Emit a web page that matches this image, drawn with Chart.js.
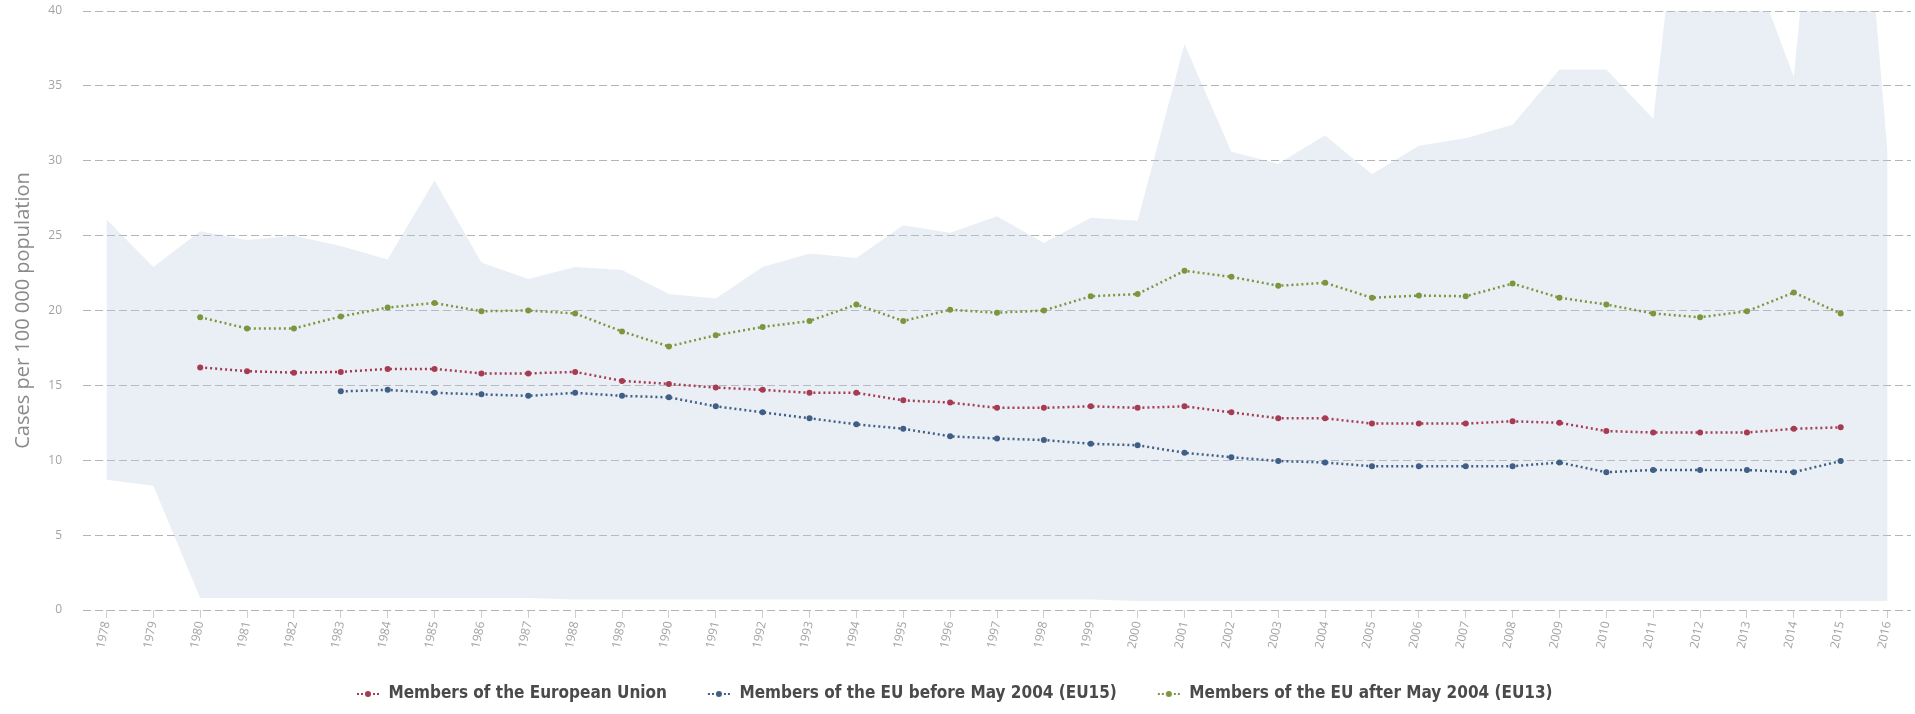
<!DOCTYPE html>
<html>
<head>
<meta charset="utf-8">
<script src="https://cdn.jsdelivr.net/npm/chart.js@4.4.1/dist/chart.umd.min.js"></script>
<style>
  html, body { margin: 0; padding: 0; background: #fff; }
  #wrap { width: 1915px; height: 714px; }
</style>
</head>
<body>
<div id="wrap"><canvas id="chart"></canvas></div>
<script>
const years = ["1978", "1979", "1980", "1981", "1982", "1983", "1984", "1985", "1986", "1987",
  "1988", "1989", "1990", "1991", "1992", "1993", "1994", "1995", "1996", "1997",
  "1998", "1999", "2000", "2001", "2002", "2003", "2004", "2005", "2006", "2007",
  "2008", "2009", "2010", "2011", "2012", "2013", "2014", "2015", "2016"];

const euAll = [null, null, 16.2, 15.95, 15.85, 15.9, 16.1, 16.1, 15.8, 15.8,
  15.9, 15.3, 15.1, 14.85, 14.7, 14.5, 14.5, 14.0, 13.85, 13.5,
  13.5, 13.6, 13.5, 13.6, 13.2, 12.8, 12.8, 12.45, 12.45, 12.45,
  12.6, 12.5, 11.95, 11.85, 11.85, 11.85, 12.1, 12.2, null];

const eu15 = [null, null, null, null, null, 14.6, 14.7, 14.5, 14.4, 14.3,
  14.5, 14.3, 14.2, 13.6, 13.2, 12.8, 12.4, 12.1, 11.6, 11.45,
  11.35, 11.1, 11.0, 10.5, 10.2, 9.95, 9.85, 9.6, 9.6, 9.6,
  9.6, 9.85, 9.2, 9.35, 9.35, 9.35, 9.2, 9.95, null];

const eu13 = [null, null, 19.55, 18.8, 18.8, 19.6, 20.2, 20.5, 19.95, 20.0,
  19.8, 18.6, 17.6, 18.35, 18.9, 19.3, 20.4, 19.3, 20.05, 19.85,
  20.0, 20.95, 21.1, 22.65, 22.25, 21.65, 21.85, 20.85, 21.0, 20.95,
  21.8, 20.85, 20.4, 19.8, 19.55, 19.95, 21.2, 19.8, null];

// highest and lowest country value per year (shaded band)
const rangeMax = [26.1, 22.9, 25.3, 24.7, 25.0, 24.3, 23.4, 28.7, 23.2, 22.1,
  22.9, 22.7, 21.1, 20.8, 22.9, 23.8, 23.5, 25.7, 25.2, 26.3,
  24.5, 26.2, 26.0, 37.8, 30.6, 29.8, 31.7, 29.1, 31.0, 31.5,
  32.4, 36.1, 36.1, 32.8, 60, 44, 35.6, 68, 30.5];

const rangeMin = [8.7, 8.3, 0.8, 0.8, 0.8, 0.8, 0.8, 0.8, 0.8, 0.8,
  0.7, 0.7, 0.7, 0.7, 0.7, 0.7, 0.7, 0.7, 0.7, 0.7,
  0.7, 0.7, 0.6, 0.6, 0.6, 0.6, 0.6, 0.6, 0.6, 0.6,
  0.6, 0.6, 0.6, 0.6, 0.6, 0.6, 0.6, 0.6, 0.6];

const seriesNames = [
  "Members of the European Union",
  "Members of the EU before May 2004 (EU15)",
  "Members of the EU after May 2004 (EU13)"
];
const seriesColors = ["#a73b52", "#3f5f86", "#7b973d"];

Chart.defaults.font.family = "'Open Sans', sans-serif";

function makeMarker(color) {
  const c = document.createElement("canvas");
  c.width = 24;
  c.height = 8;
  const g = c.getContext("2d");
  g.fillStyle = color;
  [1, 5, 17, 21].forEach(x => g.fillRect(x, 3, 2, 2));
  g.beginPath();
  g.arc(12, 4, 3, 0, Math.PI * 2);
  g.fill();
  return c;
}
const markers = seriesColors.map(makeMarker);

function lineSet(label, data, color) {
  return {
    label: label,
    data: data,
    borderColor: color,
    backgroundColor: color,
    borderWidth: 2.5,
    borderDash: [2, 3],
    pointRadius: 3,
    pointBorderWidth: 0,
    pointBackgroundColor: color,
    tension: 0,
    fill: false
  };
}

// put the legend where the original has it
const legendPlace = {
  id: "legendPlace",
  afterLayout(chart) {
    chart.legend.left = 316;
    chart.legend.top = 645.5;
  }
};

new Chart(document.getElementById("chart"), {
  type: "line",
  data: {
    labels: years,
    datasets: [
      lineSet(seriesNames[0], euAll, seriesColors[0]),
      lineSet(seriesNames[1], eu15, seriesColors[1]),
      lineSet(seriesNames[2], eu13, seriesColors[2]),
      {
        label: "max",
        data: rangeMax,
        borderWidth: 0,
        pointRadius: 0,
        backgroundColor: "rgba(185,203,222,0.3)",
        fill: "+1"
      },
      {
        label: "min",
        data: rangeMin,
        borderWidth: 0,
        pointRadius: 0,
        fill: false
      }
    ]
  },
  plugins: [legendPlace],
  options: {
    responsive: true,
    maintainAspectRatio: false,
    animation: false,
    layout: { padding: { top: 11, right: 0, bottom: 0, left: 0 } },
    plugins: {
      tooltip: { enabled: false },
      legend: {
        position: "bottom",
        align: "start",
        maxHeight: 40,
        labels: {
          usePointStyle: true,
          pointStyleWidth: 24,
          padding: 40,
          color: "#4a4a4a",
          font: { family: "'Liberation Sans Narrow', 'DejaVu Sans Condensed', sans-serif", size: 17, weight: "bold" },
          generateLabels: () => seriesNames.map((name, i) => ({
            text: name,
            pointStyle: markers[i],
            fillStyle: seriesColors[i],
            strokeStyle: seriesColors[i],
            lineWidth: 0,
            hidden: false,
            datasetIndex: i,
            fontColor: "#4a4a4a"
          }))
        }
      }
    },
    scales: {
      x: {
        offset: true,
        afterFit(scale) { scale.height = 64; },
        border: { display: false },
        grid: {
          offset: false,
          drawOnChartArea: false,
          drawTicks: true,
          tickLength: 8,
          color: "#cfcfcf"
        },
        ticks: {
          autoSkip: false,
          minRotation: 78,
          maxRotation: 78,
          padding: 2,
          color: "#a3a3a3",
          font: { size: 12 }
        }
      },
      y: {
        min: 0,
        max: 40,
        afterFit(scale) { scale.width = 83; },
        border: { display: false, dash: [8, 4] },
        grid: {
          color: "#b4b4b4",
          lineWidth: 1,
          drawTicks: true,
          tickLength: 18,
          tickColor: "rgba(0,0,0,0)"
        },
        ticks: {
          stepSize: 5,
          padding: 3,
          color: "#a3a3a3",
          font: { size: 12 }
        },
        title: {
          display: true,
          text: "Cases per 100 000 population",
          color: "#8a8a8a",
          font: { size: 20 },
          padding: { top: 11, bottom: 4 }
        }
      }
    }
  }
});
</script>
</body>
</html>
